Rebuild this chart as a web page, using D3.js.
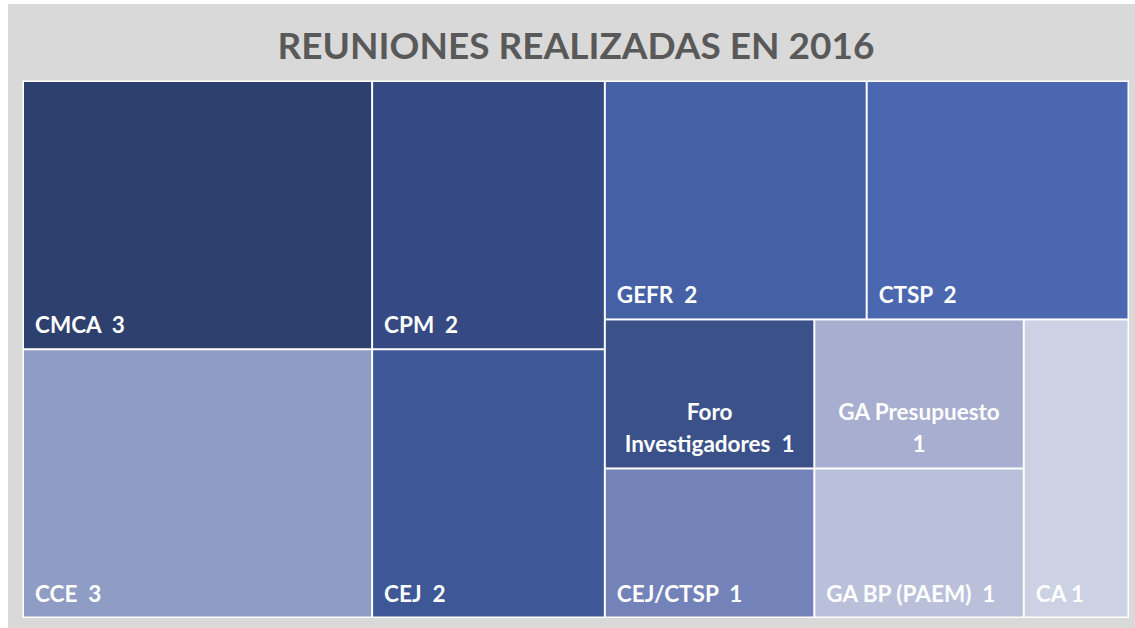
<!DOCTYPE html>
<html><head><meta charset="utf-8">
<script src="https://cdn.jsdelivr.net/npm/d3@7"></script>
<style>
html,body{margin:0;padding:0;background:#ffffff;}
svg{display:block;font-family:Lato,"Open Sans",sans-serif;}
</style>
</head><body>
<svg id="chart" width="1135" height="628"></svg>
<script>
// ---- data ----
const title = "REUNIONES REALIZADAS EN 2016";
const categories = ["CMCA", "CCE", "CPM", "CEJ", "GEFR", "CTSP", "Foro Investigadores", "CEJ/CTSP", "GA Presupuesto", "GA BP (PAEM)", "CA"];
const values = [3, 3, 2, 2, 2, 2, 1, 1, 1, 1, 1];

// ---- style ----
const palette = ["#2E416E", "#8F9CC3", "#354A82", "#3E5796", "#4560A5", "#4A67B0", "#3B518A", "#7382B8", "#A7AED0", "#BBC0DA", "#CDD1E4"];
const color = d3.scaleOrdinal().domain(categories).range(palette);

const svg = d3.select("#chart");
const W = 1135, H = 628;

// chart background
svg.append("rect").attr("x", 8).attr("y", 4).attr("width", W - 8).attr("height", H - 4).attr("fill", "#D9D9D9");

// title
svg.append("text")
  .attr("x", 576).attr("y", 59)
  .attr("text-anchor", "middle")
  .attr("font-size", 37).attr("font-weight", 700)
  .attr("fill", "#595959")
  .text(title);

// treemap
const tx = 22.5, ty = 80.5, tw = 1106.5, th = 537.5;
const root = d3.hierarchy({children: categories.map((c, i) => ({name: c, value: values[i]}))})
  .sum(d => d.value || 0);

d3.treemap()
  .tile(d3.treemapSquarify.ratio(1))
  .size([tw, th])
  .paddingOuter(1.5)
  .paddingInner(2)(root);

const g = svg.append("g").attr("transform", `translate(${tx},${ty})`);
g.append("rect").attr("width", tw).attr("height", th).attr("fill", "#ffffff");

const leaves = g.selectAll("g.leaf").data(root.leaves()).join("g").attr("class", "leaf");
leaves.append("rect")
  .attr("x", d => d.x0).attr("y", d => d.y0)
  .attr("width", d => d.x1 - d.x0).attr("height", d => d.y1 - d.y0)
  .attr("fill", d => color(d.data.name));

const fs = 22.5, lineH = 32, padX = 11, padB = 15;
leaves.each(function(d) {
  const cell = d3.select(this);
  const w = d.x1 - d.x0;
  const sep = w >= 150 ? "\u00a0\u00a0" : " ";
  const full = d.data.name + sep + d.data.value;
  const t = cell.append("text")
    .attr("font-size", fs).attr("font-weight", 700).attr("fill", "#ffffff")
    .style("white-space", "pre");
  t.text(full);
  const avail = w - 34;
  let lines = [full];
  if (t.node().getComputedTextLength() > avail) {
    const words = (d.data.name + " " + d.data.value).split(" ");
    lines = [];
    let cur = "";
    words.forEach((wd, i) => {
      const isVal = i === words.length - 1;
      const trial = cur ? cur + (isVal ? sep : " ") + wd : wd;
      t.text(trial);
      if (cur && t.node().getComputedTextLength() > avail) {
        lines.push(cur); cur = wd;
      } else cur = trial;
    });
    if (cur) lines.push(cur);
  }
  t.text(null);
  const wrapped = lines.length > 1;
  const x = wrapped ? (d.x0 + d.x1) / 2 : d.x0 + padX;
  t.attr("text-anchor", wrapped ? "middle" : "start");
  lines.forEach((ln, i) => {
    t.append("tspan")
      .attr("x", x)
      .attr("y", d.y1 - padB - (lines.length - 1 - i) * lineH)
      .text(ln);
  });
});
</script>
</body></html>
